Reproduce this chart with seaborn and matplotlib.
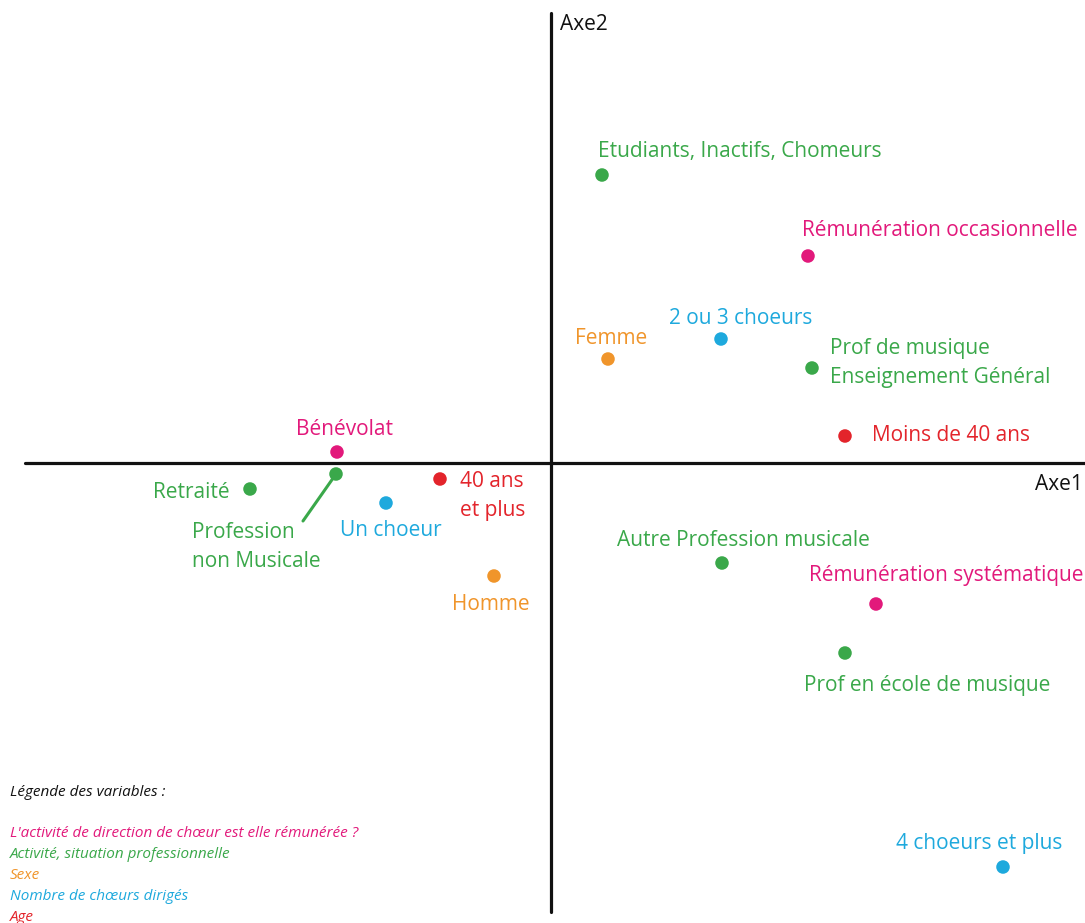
import matplotlib
matplotlib.use("Agg")
import pandas as pd
import seaborn as sns
import matplotlib.pyplot as plt

# factor scores (axe1, axe2)
labels = [
    "Etudiants, Inactifs, Chomeurs", "Rémunération occasionnelle", "2 ou 3 choeurs",
    "Femme", "Prof de musique\nEnseignement Général", "Moins de 40 ans",
    "Bénévolat", "Profession\nnon Musicale", "Retraité", "40 ans\net plus",
    "Un choeur", "Homme", "Autre Profession musicale", "Rémunération systématique",
    "Prof en école de musique", "4 choeurs et plus",
]
axe1 = [0.102, 0.514, 0.340, 0.114, 0.522, 0.588, -0.428, -0.430, -0.602, -0.222,
        -0.330, -0.114, 0.342, 0.650, 0.588, 0.904]
axe2 = [0.576, 0.414, 0.248, 0.208, 0.190, 0.054, 0.022, -0.022, -0.052, -0.032,
        -0.080, -0.226, -0.200, -0.282, -0.380, -0.808]
variable = ["activite", "remun", "choeurs", "sexe", "activite", "age",
            "remun", "activite", "activite", "age",
            "choeurs", "sexe", "activite", "remun", "activite", "choeurs"]

legend_lines = [
    ("L'activité de direction de chœur est elle rémunérée ?", "remun"),
    ("Activité, situation professionnelle", "activite"),
    ("Sexe", "sexe"),
    ("Nombre de chœurs dirigés", "choeurs"),
    ("Age", "age"),
]

colors = {
    "remun": "#e2197b",
    "activite": "#3aa84a",
    "sexe": "#f0952b",
    "choeurs": "#1ea9dd",
    "age": "#e3242b",
}

# label placement (offset in pixels from the dot, alignment)
placement = [
    (-4, 23, "left"), (-6, 26, "left"), (-52, 20, "left"),
    (-33, 20, "left"), (18, 5, "left"), (27, 0, "left"),
    (8, 22, "center"), (-144, -73, "left"), (-20, -4, "right"), (20, -17, "left"),
    (-46, -27, "left"), (-3, -29, "center"), (-105, 23, "left"), (-67, 29, "left"),
    (-41, -33, "left"), (-107, 23, "left"),
]

df = pd.DataFrame({"label": labels, "axe1": axe1, "axe2": axe2, "variable": variable})

sns.set_theme(style="white")
plt.rcParams["font.family"] = ["Open Sans", "DejaVu Sans"]

fig = plt.figure(figsize=(10.85, 9.23), dpi=100)
ax = fig.add_axes([0, 0, 1, 1])
ax.set_xlim(-1.102, 1.068)
ax.set_ylim(-0.92, 0.926)
ax.axis("off")

# axes of the factorial plane
ax.plot([-1.052, 1.068], [0, 0], color="#111111", lw=2.3, zorder=1)
ax.plot([0, 0], [-0.898, 0.9], color="#111111", lw=2.3, zorder=1)
ax.text(0.018, 0.878, "Axe2", fontsize=15, va="center", ha="left", color="#111111")
ax.text(1.064, -0.044, "Axe1", fontsize=15, va="center", ha="right", color="#111111")

sns.scatterplot(data=df, x="axe1", y="axe2", hue="variable", palette=colors,
                s=95, edgecolor="none", legend=False, ax=ax, zorder=3)

for (_, row), (dx, dy, ha) in zip(df.iterrows(), placement):
    ax.annotate(row["label"], (row["axe1"], row["axe2"]), xytext=(dx, dy),
                textcoords="offset pixels", ha=ha, va="center", fontsize=15,
                color=colors[row["variable"]], linespacing=1.45)

# leader line for "Profession non Musicale"
row = df[df["label"] == "Profession\nnon Musicale"].iloc[0]
ax.annotate("", xy=(row["axe1"], row["axe2"]), xytext=(-33, -47),
            textcoords="offset pixels",
            arrowprops=dict(arrowstyle="-", lw=2.2, color=colors["activite"],
                            shrinkA=0, shrinkB=0))

# legend block (baseline-aligned so the rows are evenly spaced)
fig.text(0.009, 1 - 796 / 923, "Légende des variables :", fontsize=11,
         style="italic", color="#111111", va="baseline")
for i, (txt, key) in enumerate(legend_lines):
    y = 837 + i * 21
    fig.text(0.009, 1 - y / 923, txt, fontsize=11, style="italic",
             color=colors[key], va="baseline")

fig.savefig("out.png", dpi=100)
